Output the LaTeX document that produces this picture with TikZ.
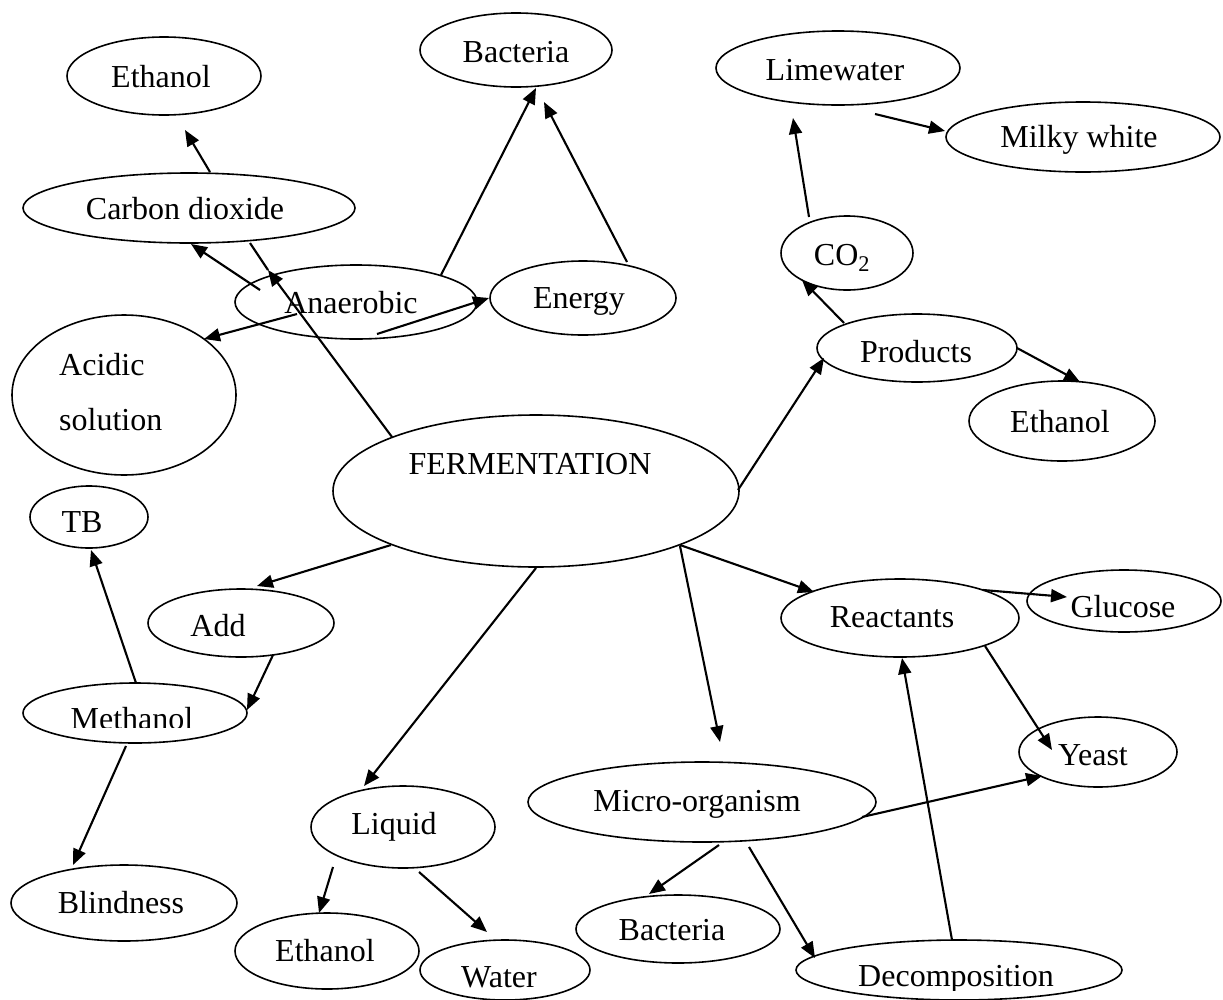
\documentclass[tikz,border=0pt]{standalone}
\usepackage{fontspec}
\setmainfont{Liberation Serif}
\usetikzlibrary{arrows.meta,shapes.geometric,calc}

\tikzset{
  bubble/.style={draw, ellipse, line width=1.6pt, inner sep=0pt, outer sep=0pt},
  word/.style={anchor=base, inner sep=0pt, font=\fontsize{32}{38}\selectfont},
  link/.style={line width=2.1pt, -{Triangle[length=16pt,width=13pt]}},
  bare link/.style={line width=2.1pt}
}

\begin{document}
\begin{tikzpicture}[x=1pt, y=-1pt]
\path[fill=white, use as bounding box] (0,0) rectangle (1223,999);

% ---------- ellipses ----------
\node[bubble, minimum width=194pt, minimum height=78pt]  (eth1)   at (164,76)  {};
\node[bubble, minimum width=192pt, minimum height=74pt]  (bac1)   at (516,50)  {};
\node[bubble, minimum width=244pt, minimum height=74pt]  (lime)   at (838,68)  {};
\node[bubble, minimum width=274pt, minimum height=70pt]  (milky)  at (1083,137) {};
\node[bubble, minimum width=332pt, minimum height=70pt]  (cd)     at (189,208) {};
\node[bubble, minimum width=132pt, minimum height=74pt]  (co2)    at (847,253) {};
\node[bubble, minimum width=242pt, minimum height=74pt]  (anaer)  at (356,302) {};
\node[bubble, minimum width=186pt, minimum height=74pt]  (energy) at (583,298) {};
\node[bubble, minimum width=200pt, minimum height=68pt]  (prod)   at (917,348) {};
\node[bubble, minimum width=224pt, minimum height=160pt] (acid)   at (124,395) {};
\node[bubble, minimum width=186pt, minimum height=80pt]  (eth2)   at (1062,421) {};
\node[bubble, minimum width=406pt, minimum height=152pt] (ferm)   at (536,491) {};
\node[bubble, minimum width=118pt, minimum height=62pt]  (tb)     at (89,517)  {};
\node[bubble, minimum width=186pt, minimum height=68pt]  (add)    at (241,623) {};
\node[bubble, minimum width=224pt, minimum height=60pt]  (meth)   at (135,713) {};
\node[bubble, minimum width=238pt, minimum height=78pt]  (react)  at (900,618) {};
\node[bubble, minimum width=194pt, minimum height=62pt]  (gluc)   at (1124,601) {};
\node[bubble, minimum width=158pt, minimum height=70pt]  (yeast)  at (1098,752) {};
\node[bubble, minimum width=348pt, minimum height=80pt]  (micro)  at (702,802) {};
\node[bubble, minimum width=184pt, minimum height=82pt]  (liquid) at (403,827) {};
\node[bubble, minimum width=226pt, minimum height=76pt]  (blind)  at (124,903) {};
\node[bubble, minimum width=184pt, minimum height=76pt]  (eth3)   at (327,951) {};
\node[bubble, minimum width=170pt, minimum height=60pt]  (water)  at (505,970) {};
\node[bubble, minimum width=204pt, minimum height=68pt]  (bac2)   at (678,929) {};
\node[bubble, minimum width=326pt, minimum height=60pt]  (decomp) at (959,970) {};

% ---------- labels ----------
\node[word] (t-eth1)   at (161,87)   {Ethanol};
\node[word] (t-bac1)   at (516,62)   {Bacteria};
\node[word] (t-lime)   at (835,80)   {Limewater};
\node[word] (t-milky)  at (1079,147) {Milky white};
\node[word] (t-cd)     at (185,219)  {Carbon dioxide};
\node[word] (t-co2)    at (842,265)  {CO\textsubscript{2}};
\node[word] (t-anaer)  at (351,313)  {Anaerobic};
\node[word] (t-energy) at (579,308)  {Energy};
\node[word] (t-prod)   at (916,362)  {Products};
\node[word, anchor=base west] (t-acid1) at (59,375) {Acidic};
\node[word, anchor=base west] (t-acid2) at (59,430) {solution};
\node[word] (t-eth2)   at (1060,432) {Ethanol};
\node[word] (t-ferm)   at (530,474)  {FERMENTATION};
\node[word] (t-tb)     at (82,532)   {TB};
\node[word] (t-add)    at (218,636)  {Add};
\begin{scope}
  \clip (0,0) rectangle (1223,727);
  \node[word] (t-meth) at (132,729) {Methanol};
\end{scope}
\node[word] (t-react)  at (892,627)  {Reactants};
\node[word] (t-gluc)   at (1123,617) {Glucose};
\node[word] (t-yeast)  at (1093,765) {Yeast};
\node[word] (t-micro)  at (697,811)  {Micro-organism};
\node[word] (t-liquid) at (394,834)  {Liquid};
\node[word] (t-blind)  at (121,913)  {Blindness};
\node[word] (t-eth3)   at (325,961)  {Ethanol};
\node[word] (t-water)  at (499,987)  {Water};
\node[word] (t-bac2)   at (672,940)  {Bacteria};
\begin{scope}
  \clip (0,0) rectangle (1223,990);
  \node[word] (t-decomp) at (956,986) {Decomposition};
\end{scope}

% ---------- connectors ----------
\draw[link] ($(cd)+(21,-36)$)     -- ($(eth1)+(21,54)$);
\draw[link] ($(anaer)+(85,-27)$)  -- ($(bac1)+(20,38)$);
\draw[link] ($(energy)+(44,-36)$) -- ($(bac1)+(28,52)$);
\draw[link] ($(anaer)+(-96,-12)$) -- ($(cd)+(2,36)$);
\coordinate (cdmark) at ($(cd)+(79,62)$);
\draw[link] ($(ferm)+(-144,-54)$) -- (cdmark);
\draw[bare link] (cdmark) -- ($(cd)+(61,35)$);
\draw[link] ($(anaer)+(21,32)$)   -- ($(energy)+(-94,0)$);
\draw[link] ($(anaer)+(-59,12)$)  -- ($(acid)+(80,-56)$);
\draw[link] ($(co2)+(-38,-36)$)   -- ($(lime)+(-45,50)$);
\draw[link] ($(lime)+(37,46)$)    -- ($(milky)+(-138,-6)$);
\draw[link] ($(prod)+(-73,-25)$)  -- ($(co2)+(-45,27)$);
\draw[link] ($(prod)+(100,0)$)    -- ($(eth2)+(18,-39)$);
\draw[link] ($(ferm)+(202,-1)$)   -- ($(prod)+(-93,10)$);
\draw[link] ($(ferm)+(-145,54)$)  -- ($(add)+(16,-37)$);
\draw[link] ($(add)+(32,32)$)     -- ($(meth)+(112,-3)$);
\draw[link] ($(meth)+(1,-30)$)    -- ($(tb)+(2,33)$);
\draw[link] ($(meth)+(-9,33)$)    -- ($(blind)+(-51,-38)$);
\draw[link] ($(ferm)+(0,77)$)     -- ($(liquid)+(-39,-41)$);
\draw[link] ($(liquid)+(-70,40)$) -- ($(eth3)+(-8,-38)$);
\draw[link] ($(liquid)+(16,45)$)  -- ($(water)+(-18,-38)$);
\draw[link] ($(ferm)+(144,54)$)   -- ($(react)+(-86,-26)$);
\draw[link] ($(ferm)+(144,55)$)   -- ($(micro)+(18,-60)$);
\draw[link] ($(react)+(83,-28)$)  -- ($(gluc)+(-57,-4)$);
\draw[link] ($(react)+(85,28)$)   -- ($(yeast)+(-46,-2)$);
\draw[link] ($(micro)+(160,15)$)  -- ($(yeast)+(-56,24)$);
\draw[link] ($(micro)+(17,43)$)   -- ($(bac2)+(-29,-35)$);
\draw[link] ($(micro)+(47,45)$)   -- ($(decomp)+(-144,-12)$);
\draw[link] ($(decomp)+(-7,-30)$) -- ($(react)+(2,40)$);
\end{tikzpicture}
\end{document}
